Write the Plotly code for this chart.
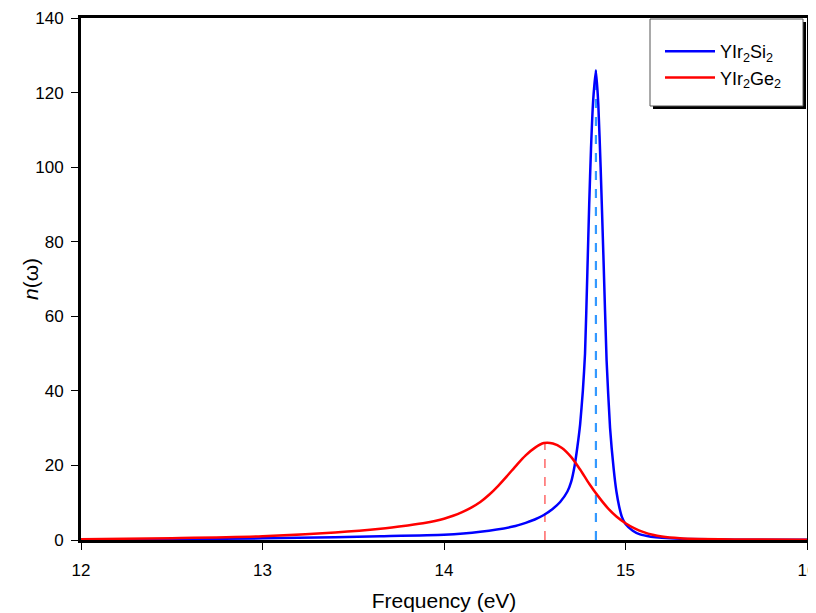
import plotly.graph_objects as go

# YIr2Si2 refractive index n(w)
freq_si = [12.0, 12.5, 13.0, 13.4, 13.65, 14.0, 14.2, 14.38, 14.45, 14.5, 14.55, 14.6,
           14.64, 14.68, 14.70, 14.72, 14.735, 14.75, 14.765, 14.777, 14.79, 14.80,
           14.81, 14.822, 14.837, 14.85, 14.863, 14.879, 14.896, 14.915, 14.935, 14.95,
           14.965, 14.98, 15.0, 15.04, 15.08, 15.14, 15.2, 15.32, 15.6, 16.0]
n_si = [0.1, 0.2, 0.45, 0.75, 1.0, 1.4, 2.2, 3.6, 4.6, 5.5, 6.7, 8.4,
        10.2, 13.0, 15.5, 20.0, 25.0, 31.0, 40.0, 50.0, 72.0, 90.0,
        105.0, 118.0, 126.0, 117.0, 100.0, 75.0, 48.0, 30.0, 19.0, 13.0,
        9.0, 6.2, 4.3, 2.5, 1.5, 0.9, 0.6, 0.3, 0.1, 0.05]

# YIr2Ge2
freq_ge = [12.0, 12.5, 13.0, 13.4, 13.65, 13.8, 13.9, 13.95, 14.0, 14.05, 14.1, 14.15,
           14.2, 14.25, 14.3, 14.35, 14.4, 14.45, 14.5, 14.55, 14.6, 14.65,
           14.7, 14.75, 14.8, 14.85, 14.9, 14.95, 15.0, 15.05, 15.1, 15.15,
           15.2, 15.3, 15.4, 15.6, 16.0]
n_ge = [0.2, 0.5, 1.0, 2.0, 3.0, 3.9, 4.6, 5.1, 5.7, 6.5, 7.5, 8.7,
        10.2, 12.2, 14.6, 17.3, 20.1, 22.7, 24.7, 26.0, 25.9, 24.7,
        22.3, 18.9, 15.1, 11.7, 8.7, 6.3, 4.5, 3.1, 2.1, 1.4,
        0.95, 0.5, 0.3, 0.15, 0.05]

# peak markers (dashed drop lines)
peak_si = (14.837, 126.0)
peak_ge = (14.556, 26.1)

# page body adds 8px, so figure is 8px smaller and margins shifted
W, H = 808, 605
L, R, T, B = 73, 9, 10, 73
PX0, PY1 = 81, 540          # plot area on screen
pw, ph = 726, 522


def px(xp, yp):
    # screen pixel -> paper coords
    return (xp - PX0) / pw, (PY1 - yp) / ph


fig = go.Figure()

fig.add_trace(go.Scatter(x=[peak_ge[0], peak_ge[0]], y=[0, peak_ge[1]], mode="lines",
                         line=dict(color="#ff8080", width=1.8, dash="dash"), showlegend=False))
fig.add_trace(go.Scatter(x=[peak_si[0], peak_si[0]], y=[0, peak_si[1]], mode="lines",
                         line=dict(color="#3399ff", width=2.2, dash="dash"), showlegend=False))

fig.add_trace(go.Scatter(x=freq_si, y=n_si, mode="lines", name="YIr<sub>2</sub>Si<sub>2</sub>",
                         line=dict(color="#0000ff", width=2.5, shape="spline", smoothing=0.5)))
fig.add_trace(go.Scatter(x=freq_ge, y=n_ge, mode="lines", name="YIr<sub>2</sub>Ge<sub>2</sub>",
                         line=dict(color="#ff0000", width=2.5, shape="spline", smoothing=0.8)))

# legend box with drop shadow
sx0, sy0 = px(653, 109)
sx1, sy1 = px(806, 22)
fig.add_shape(type="rect", xref="paper", yref="paper", x0=sx0, y0=sy0, x1=sx1, y1=sy1,
              fillcolor="black", line=dict(width=0), layer="above")
bx0, by0 = px(650, 106)
bx1, by1 = px(803, 19)
fig.add_shape(type="rect", xref="paper", yref="paper", x0=bx0, y0=by0, x1=bx1, y1=by1,
              fillcolor="white", line=dict(color="#555555", width=1), layer="above")

# y-axis title placed by hand (axis title can't sit that close to the labels)
tx, ty = px(30, 279)
fig.add_annotation(text="<i>n</i>(ω)", xref="paper", yref="paper", x=tx, y=ty,
                   xanchor="center", yanchor="middle", textangle=-90, showarrow=False,
                   font=dict(size=21))

lx, ly = px(660, 33)
fig.update_layout(
    width=W, height=H,
    margin=dict(l=L, r=R, t=T, b=B),
    plot_bgcolor="white", paper_bgcolor="white",
    font=dict(family="Liberation Sans, Arial", size=17, color="black"),
    showlegend=True,
    legend=dict(x=lx, y=ly, xanchor="left", yanchor="top", bgcolor="rgba(0,0,0,0)",
                borderwidth=0, itemwidth=50, font=dict(size=18)),
)
fig.update_xaxes(range=[12, 16], dtick=1, showgrid=False, zeroline=False, automargin=False,
                 showline=True, linewidth=3, linecolor="black", mirror=True,
                 ticks="outside", ticklen=7, tickwidth=1, tickcolor="black",
                 ticklabelstandoff=6, ticklabeloverflow="allow",
                 title=dict(text="Frequency (eV)", font=dict(size=21), standoff=14))
fig.update_yaxes(range=[0, 140], dtick=20, showgrid=False, zeroline=False, automargin=False,
                 showline=True, linewidth=3, linecolor="black", mirror=True,
                 ticks="outside", ticklen=7, tickwidth=1, tickcolor="black",
                 ticklabelstandoff=4)

fig.write_html("out.html")
